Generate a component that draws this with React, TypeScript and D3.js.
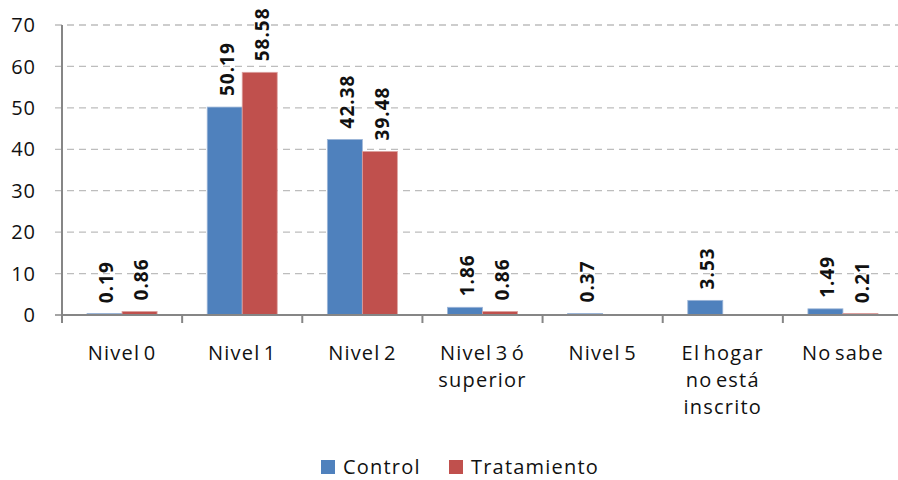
import React from "react";
import * as d3 from "d3";

const categories: string[][] = [
  ["Nivel 0"],
  ["Nivel 1"],
  ["Nivel 2"],
  ["Nivel 3 ó", "superior"],
  ["Nivel 5"],
  ["El hogar", "no está", "inscrito"],
  ["No sabe"],
];
const seriesNames = ["Control", "Tratamiento"];
const controlValues: (number | null)[] = [0.19, 50.19, 42.38, 1.86, 0.37, 3.53, 1.49];
const tratamientoValues: (number | null)[] = [0.86, 58.58, 39.48, 0.86, null, null, 0.21];
const yTicks = [0, 10, 20, 30, 40, 50, 60, 70];
const colors = ["#4F81BD", "#C0504D"];

const W = 898;
const H = 480;
const FONT = "'Open Sans', 'DejaVu Sans', sans-serif";

export default function App() {
  const left = 62;
  const right = 903;
  const top = 25;
  const bottom = 315;
  const keys = categories.map((c) => c.join(" "));
  const x = d3.scaleBand<string>().domain(keys).range([left, right]).padding(0);
  const bw = x.bandwidth();
  const inner = d3
    .scaleBand<string>()
    .domain(seriesNames)
    .range([0, bw])
    .paddingInner(0)
    .paddingOuter(0.716);
  const y = d3.scaleLinear().domain([0, 70]).range([bottom, top]);
  const series = [controlValues, tratamientoValues];
  const tickPositions = d3.range(keys.length + 1).map((i) => left + i * x.step());

  return (
    <svg
      width={W}
      height={H}
      style={{ position: "absolute", left: 0, top: 0, background: "#fff" }}
      fontFamily={FONT}
    >
      {yTicks.filter((t) => t > 0).map((t) => (
        <line
          key={"g" + t}
          x1={left - 7}
          x2={W}
          y1={y(t)}
          y2={y(t)}
          stroke="#BDBDBD"
          strokeWidth={1.3}
          strokeDasharray="7,5"
        />
      ))}
      <line x1={left - 7} x2={left} y1={y(0)} y2={y(0)} stroke="#868686" strokeWidth={1.5} />
      {series.map((vals, si) =>
        vals.map((v, ci) => {
          if (v == null) return null;
          const h = Math.max(y(0) - y(v), 1.6);
          return (
            <rect
              key={`b${si}-${ci}`}
              x={(x(keys[ci]) as number) + (inner(seriesNames[si]) as number)}
              y={y(0) - h}
              width={inner.bandwidth()}
              height={h}
              fill={colors[si]}
              stroke={si === 0 ? "#9DB6D8" : "#DDA2A0"}
              strokeWidth={0.8}
            />
          );
        })
      )}
      <line x1={left} x2={left} y1={top} y2={bottom} stroke="#868686" strokeWidth={2} />
      <line x1={left} x2={W} y1={bottom} y2={bottom} stroke="#868686" strokeWidth={2} />
      {tickPositions.map((tx, i) => (
        <line key={"xt" + i} x1={tx} x2={tx} y1={bottom} y2={bottom + 8} stroke="#868686" strokeWidth={2} />
      ))}
      {yTicks.map((t) => (
        <text
          key={"yl" + t}
          x={36}
          y={y(t)}
          dy="0.36em"
          textAnchor="end"
          fontSize={20}
          letterSpacing={1}
          fill="#111"
        >
          {t}
        </text>
      ))}
      {series.map((vals, si) =>
        vals.map((v, ci) => {
          if (v == null) return null;
          const cx = (x(keys[ci]) as number) + (inner(seriesNames[si]) as number) + inner.bandwidth() / 2 + 2;
          const ty = y(v) - 11;
          return (
            <text
              key={`l${si}-${ci}`}
              transform={`translate(${cx},${ty}) rotate(-90)`}
              dy="0.36em"
              fontSize={19}
              fontWeight="bold"
              letterSpacing={1}
              fill="#111"
            >
              {v.toFixed(2)}
            </text>
          );
        })
      )}
      {categories.map((lines, ci) => (
        <text
          key={"c" + ci}
          x={(x(keys[ci]) as number) + bw / 2}
          y={360}
          textAnchor="middle"
          fontSize={20}
          letterSpacing={1.2}
          wordSpacing={-3}
          fill="#111"
        >
          {lines.map((ln, li) => (
            <tspan key={li} x={(x(keys[ci]) as number) + bw / 2} y={360 + li * 27}>
              {ln}
            </tspan>
          ))}
        </text>
      ))}
      {seriesNames.map((s, i) => {
        const lx = i === 0 ? 321 : 449;
        return (
          <g key={"lg" + i}>
            <rect x={lx} y={460} width={14} height={14} fill={colors[i]} />
            <text x={lx + 22} y={474} fontSize={20} letterSpacing={1.2} fill="#111">
              {s}
            </text>
          </g>
        );
      })}
    </svg>
  );
}
